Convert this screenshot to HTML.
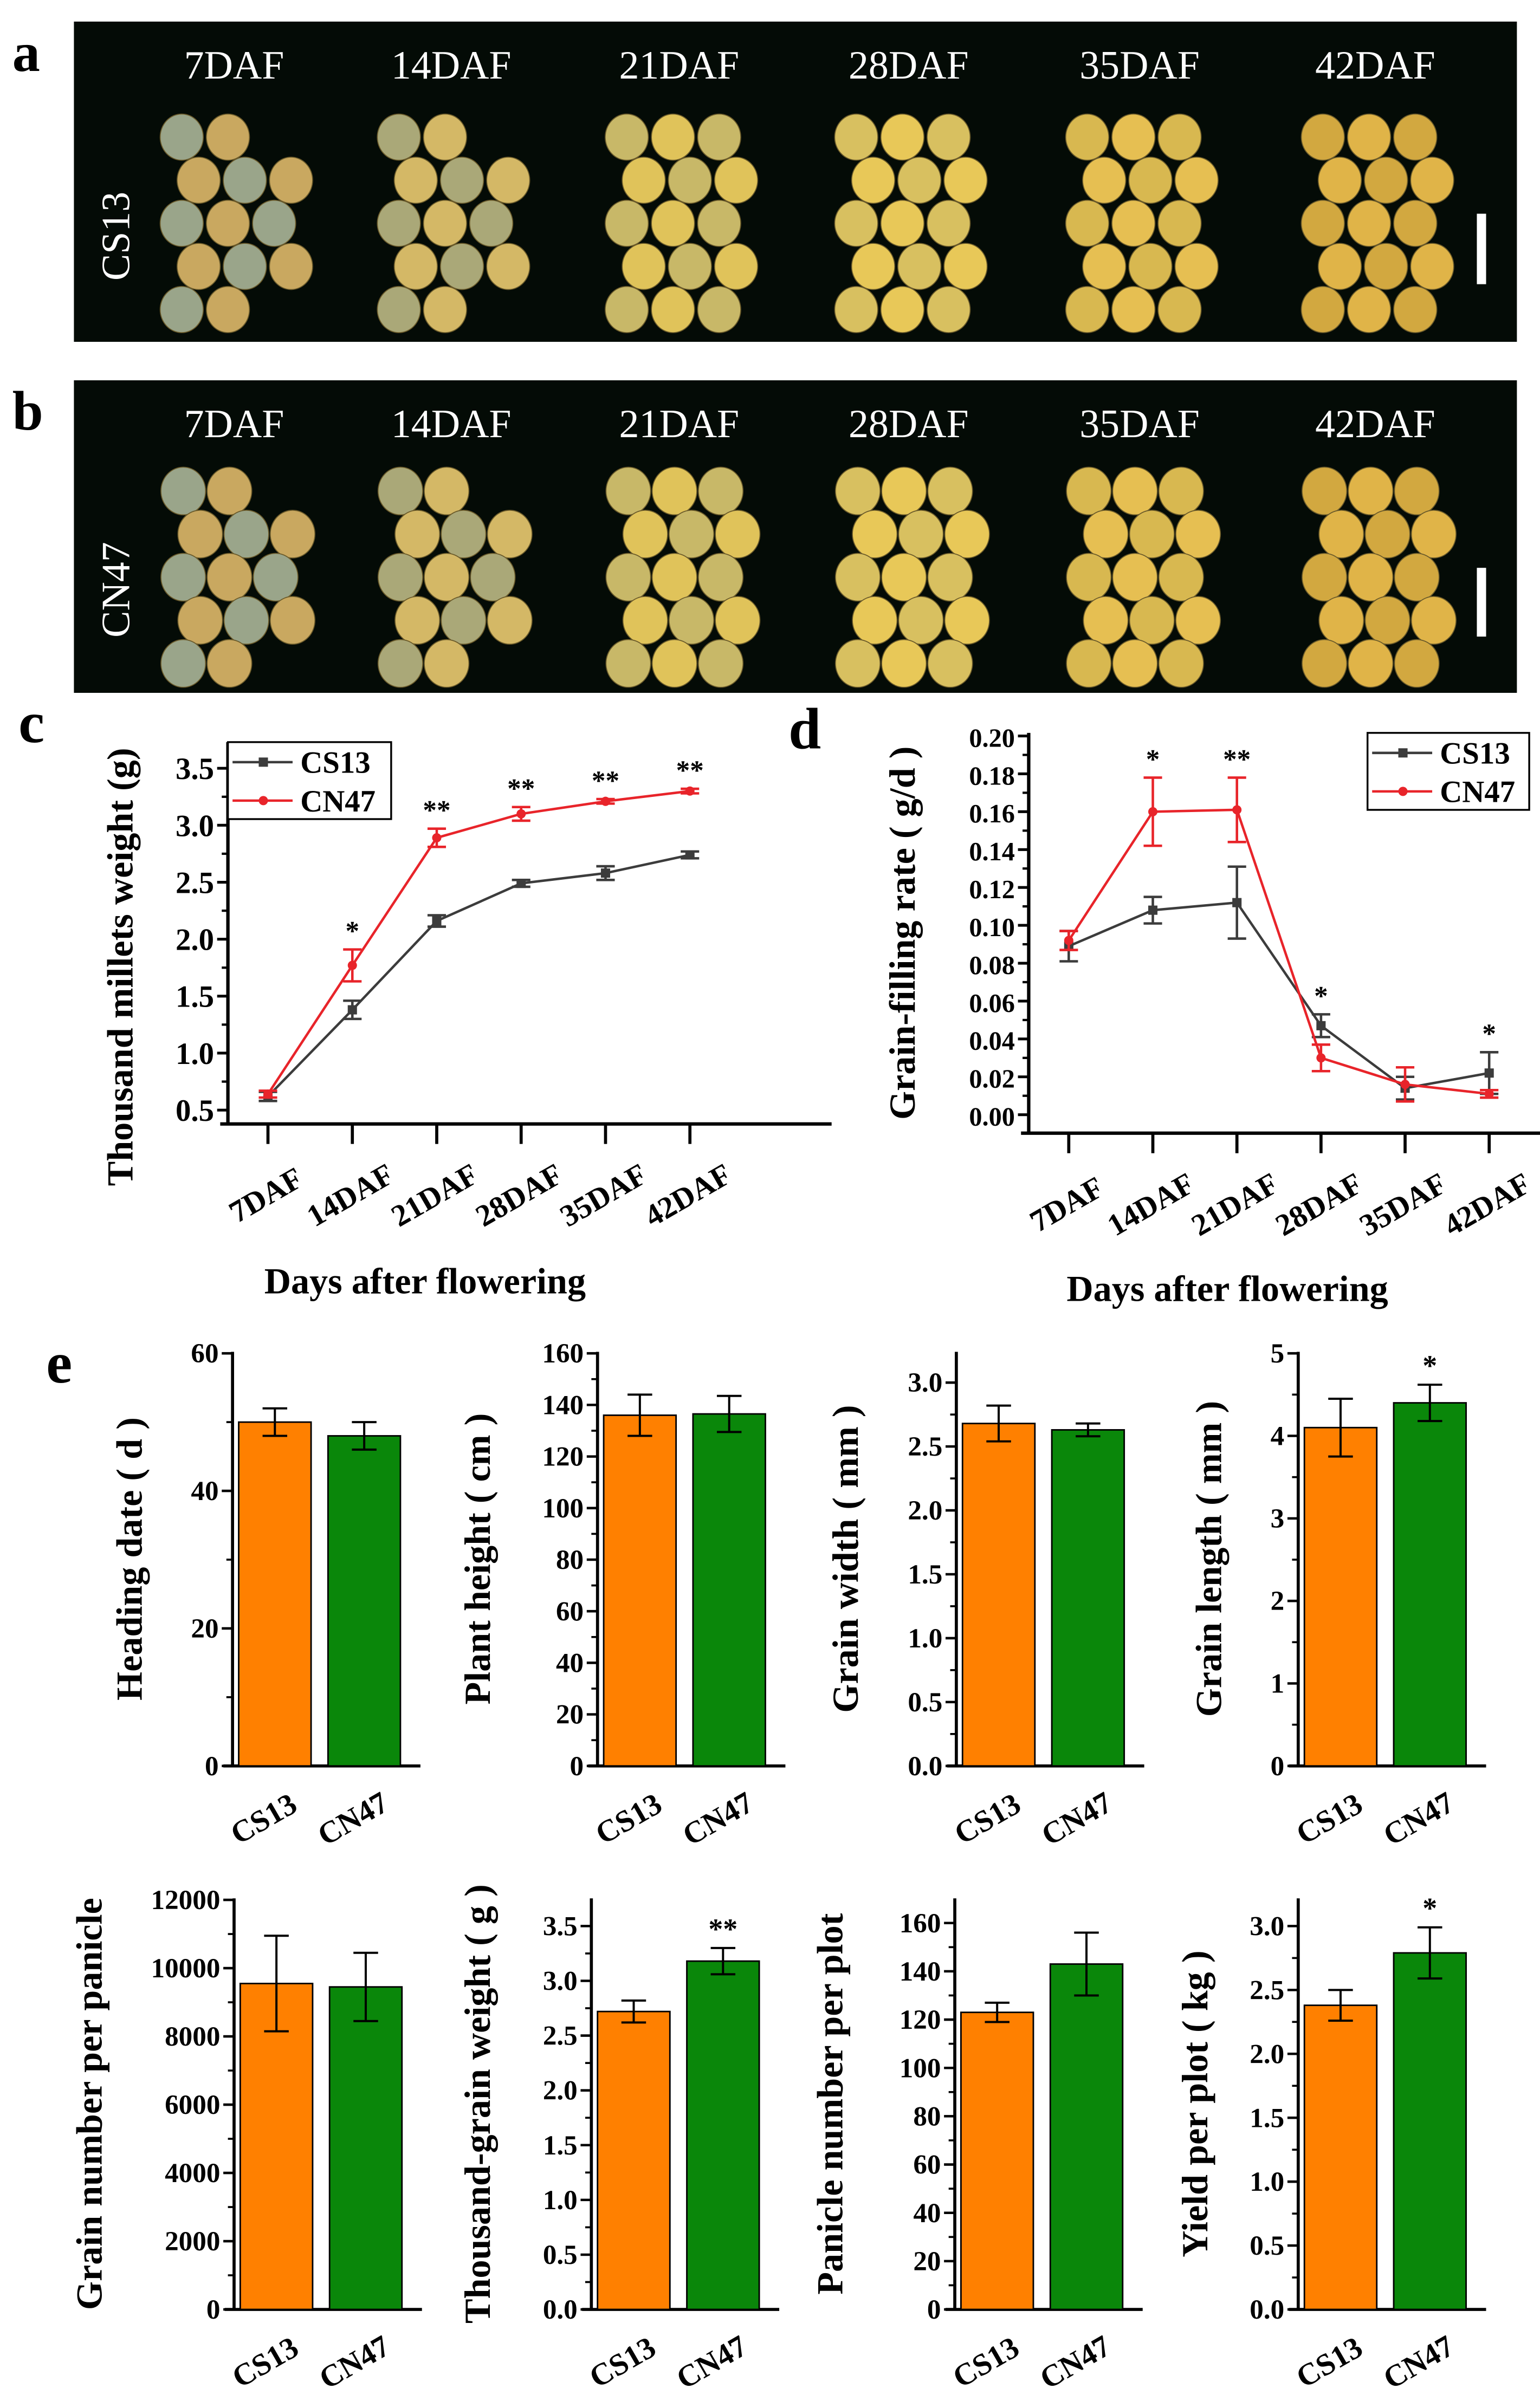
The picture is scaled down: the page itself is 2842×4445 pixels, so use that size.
<!DOCTYPE html>
<html><head><meta charset="utf-8"><style>
html,body{margin:0;padding:0;background:#fff}
svg{display:block;font-family:"Liberation Serif",serif;font-weight:bold}
</style></head><body>
<svg id="fig" xmlns="http://www.w3.org/2000/svg" width="2842" height="4445" viewBox="0 0 1000 1564">
<rect width="1000" height="1564" fill="#fff"/>
<g id="photos"></g>
<g id="lc"></g>
<g id="ld"></g>
<g id="bars"></g>
</svg>
<script>
const NS="http://www.w3.org/2000/svg";
// ---- line chart data ----
const days=["7DAF","14DAF","21DAF","28DAF","35DAF","42DAF"];
const cCS13=[0.62,1.38,2.16,2.49,2.58,2.74];
const cCS13err=[0.04,0.08,0.05,0.03,0.06,0.03];
const cCN47=[0.64,1.77,2.89,3.10,3.21,3.30];
const cCN47err=[0.03,0.14,0.08,0.06,0.02,0.02];
const cStars=["","*","**","**","**","**"];
const cTicks=[0.5,1.0,1.5,2.0,2.5,3.0,3.5];
const dCS13=[0.089,0.108,0.112,0.047,0.014,0.022];
const dCS13err=[0.008,0.007,0.019,0.006,0.006,0.011];
const dCN47=[0.092,0.160,0.161,0.030,0.016,0.011];
const dCN47err=[0.005,0.018,0.017,0.007,0.009,0.002];
const dStars=["","*","**","*","","*"];
const dTicks=[0,0.02,0.04,0.06,0.08,0.10,0.12,0.14,0.16,0.18,0.20];
// ---- bar chart data ----
const barCats=["CS13","CN47"];
const headingVals=[50,48], headingErr=[2,2], headingTicks=[0,20,40,60];
const heightVals=[136,136.5], heightErr=[8,7], heightTicks=[0,20,40,60,80,100,120,140,160];
const widthVals=[2.68,2.63], widthErr=[0.14,0.05], widthTicks=[0,0.5,1.0,1.5,2.0,2.5,3.0];
const lengthVals=[4.1,4.4], lengthErr=[0.35,0.22], lengthTicks=[0,1,2,3,4,5];
const numberVals=[9550,9450], numberErr=[1400,1000], numberTicks=[0,2000,4000,6000,8000,10000,12000];
const tgwVals=[2.72,3.18], tgwErr=[0.1,0.12], tgwTicks=[0,0.5,1.0,1.5,2.0,2.5,3.0,3.5];
const panicleVals=[123,143], panicleErr=[4,13], panicleTicks=[0,20,40,60,80,100,120,140,160];
const yieldVals=[2.38,2.79], yieldErr=[0.12,0.2], yieldTicks=[0,0.5,1.0,1.5,2.0,2.5,3.0];

function el(tag,attrs,parent,txt){const e=document.createElementNS(NS,tag);for(const k in attrs)e.setAttribute(k,attrs[k]);if(txt!==undefined)e.textContent=txt;parent.appendChild(e);return e;}

// ---- photo panels ----
const ph=document.getElementById('photos');
function panel(y0,h,label,letter,grow){
  const g=el('g',{},ph);
  
  
  el('rect',{x:48,y:y0,width:937,height:h,fill:'#040b06'},g);
  const lt=el('text',{x:8,y:y0+32,'font-size':36,fill:'#000'},ph,letter);
  
  
  const xs=[152,293,441,590,740,893];
  const cols=[["#9aa58a","#c9a860"],["#aaa878","#d4b866"],["#c8b868","#e0c35a"],["#d8c060","#e8c858"],["#d8b850","#e6bf52"],["#d2a840","#e0b448"]];
  xs.forEach((cx,i)=>{
    const t=el('text',{x:cx,y:y0+37,'font-size':26,'font-weight':'normal','text-anchor':'middle',fill:'#fff'},g,days[i]);
    
    
    const cy=y0+h*0.63;
    for(let r=0;r<5;r++)for(let c=0;c<3;c++){
      if((r==0||r==4)&&c==2&&i<2)continue;
      const gx=cx-30+c*30+(r%2?7:-4)+grow*2, gy=cy-56+r*28;
      el('ellipse',{cx:gx,cy:gy,rx:14+grow,ry:15+grow,fill:cols[i][(r+c)%2],stroke:'#6a5a2a','stroke-width':0.6},g);
    }
  });
  const l=el('text',{transform:`translate(84,${y0+h*0.67}) rotate(-90)`,'font-size':26,'font-weight':'normal','text-anchor':'middle',fill:'#fff'},g,label);
  
  
  const sb=el('rect',{x:959,y:y0+h*0.6,width:6,height:h*0.22,fill:'#fff'},g);
  
  
}
panel(14,208,'CS13','a',0);
panel(247,203,'CN47','b',0.5);

// ---- line charts ----
function lineChart(gid,o){
  const g=document.getElementById(gid);
  
  
  const Y=v=>o.y0-(v-o.v0)*o.sy;
  const X=i=>o.x0+i*o.dx;
  const lt=el('text',{x:o.lx,y:o.ly,'font-size':38,fill:'#000'},g,o.letter);
  
  
  el('line',{x1:o.ax,y1:o.top,x2:o.ax,y2:o.bot,stroke:'#000','stroke-width':2.2},g);
  el('line',{x1:o.ax-5,y1:o.bot,x2:o.right,y2:o.bot,stroke:'#000','stroke-width':2.2},g);
  o.ticks.forEach((t,k)=>{
    el('line',{x1:o.ax-7,y1:Y(t),x2:o.ax,y2:Y(t),stroke:'#000','stroke-width':1.8},g);
    if(k<o.ticks.length-1){const m=(t+o.ticks[k+1])/2;el('line',{x1:o.ax-4,y1:Y(m),x2:o.ax,y2:Y(m),stroke:'#000','stroke-width':1.5},g);}
    const tl=el('text',{x:o.ax-9,y:Y(t)+7,'font-size':o.tfs,'text-anchor':'end'},g,o.fmt(t));
    
    
  });
  days.forEach((d,i)=>{
    el('line',{x1:X(i),y1:o.bot,x2:X(i),y2:o.bot+13,stroke:'#000','stroke-width':2},g);
    const tl=el('text',{transform:`translate(${X(i)+2},${o.bot+52}) rotate(-30)`,'font-size':20,'text-anchor':'middle'},g,d);
    
    
  });
  const series=[[o.s1,o.e1,'#3c3c3c','sq','cs13-series'],[o.s2,o.e2,'#e8242a','ci','cn47-series']];
  series.forEach(([s,e,col,mk,nm])=>{
    const sg=el('g',{},g);
    
    
    el('polyline',{points:s.map((v,i)=>X(i)+','+Y(v)).join(' '),fill:'none',stroke:col,'stroke-width':1.6},sg);
    s.forEach((v,i)=>{
      const x=X(i);
      el('line',{x1:x,y1:Y(v-e[i]),x2:x,y2:Y(v+e[i]),stroke:col,'stroke-width':1.6},sg);
      el('line',{x1:x-6,y1:Y(v-e[i]),x2:x+6,y2:Y(v-e[i]),stroke:col,'stroke-width':1.6},sg);
      el('line',{x1:x-6,y1:Y(v+e[i]),x2:x+6,y2:Y(v+e[i]),stroke:col,'stroke-width':1.6},sg);
      if(mk=='sq')el('rect',{x:x-3,y:Y(v)-3,width:6,height:6,fill:col},sg);
      else el('circle',{cx:x,cy:Y(v),r:3,fill:col},sg);
    });
  });
  o.stars.forEach((st,i)=>{
    if(!st)return;
    const top=Math.max(o.s1[i]+o.e1[i],o.s2[i]+o.e2[i]);
    const t=el('text',{x:X(i),y:Y(top)-6,'font-size':18,'text-anchor':'middle'},g,st);
    
    
  });
  const lg=el('g',{},g);
  
  
  el('rect',{x:o.lgx,y:o.lgy,width:o.lgw,height:50,fill:'#fff',stroke:'#000','stroke-width':1.2},lg);
  [['CS13','#3c3c3c','sq'],['CN47','#e8242a','ci']].forEach(([n,c,m],k)=>{
    const yy=o.lgy+13+k*25;
    el('line',{x1:o.lgx+3,y1:yy,x2:o.lgx+42,y2:yy,stroke:c,'stroke-width':1.6},lg);
    if(m=='sq')el('rect',{x:o.lgx+20,y:yy-3,width:6,height:6,fill:c},lg);else el('circle',{cx:o.lgx+23,cy:yy,r:3,fill:c},lg);
    const t=el('text',{x:o.lgx+47,y:yy+7,'font-size':20},lg,n);
    
    
  });
  const yt=el('text',{transform:`translate(${o.ytx},${o.yty}) rotate(-90)`,'font-size':24,'text-anchor':'middle'},g,o.ytitle);
  
  
  const xt=el('text',{x:o.xtx,y:o.xty,'font-size':24,'text-anchor':'middle'},g,'Days after flowering');
  
  
}
lineChart('lc',{name:'thousand-millet-weight-chart',letter:'c',lx:12,ly:482,ax:148,top:482,bot:730,right:540,x0:174,dx:54.8,y0:721,v0:0.5,sy:74,tfs:20,
  ticks:cTicks,fmt:v=>v.toFixed(1),s1:cCS13,e1:cCS13err,s2:cCN47,e2:cCN47err,stars:cStars,lgx:148,lgy:482,lgw:106,
  ytx:86,yty:628,ytitle:'Thousand millets weight (g)',xtx:276,xty:840});
lineChart('ld',{name:'grain-filling-rate-chart',letter:'d',lx:512,ly:486,ax:668,top:476,bot:736,right:1000,x0:694,dx:54.6,y0:724,v0:0,sy:1230,tfs:17,
  ticks:dTicks,fmt:v=>v.toFixed(2),s1:dCS13,e1:dCS13err,s2:dCN47,e2:dCN47err,stars:dStars,lgx:888,lgy:476,lgw:105,
  ytx:594,yty:606,ytitle:'Grain-filling rate ( g/d )',xtx:797,xty:845});

// ---- bar charts ----
const bg=document.getElementById('bars');
const el_e=el('text',{x:30,y:898,'font-size':38},bg,'e');


function barChart(o){
  const g=el('g',{},bg);
  
  
  const maxT=o.ticks[o.ticks.length-1];
  const Y=v=>o.bot-v*(o.bot-o.tickTop)/maxT;
  el('line',{x1:o.ax,y1:o.top,x2:o.ax,y2:o.bot,stroke:'#000','stroke-width':2},g);
  el('line',{x1:o.ax-6,y1:o.bot,x2:o.ax+122,y2:o.bot,stroke:'#000','stroke-width':2},g);
  o.ticks.forEach((t,k)=>{
    el('line',{x1:o.ax-7,y1:Y(t),x2:o.ax,y2:Y(t),stroke:'#000','stroke-width':1.6},g);
    if(k<o.ticks.length-1){const m=(t+o.ticks[k+1])/2;el('line',{x1:o.ax-4,y1:Y(m),x2:o.ax,y2:Y(m),stroke:'#000','stroke-width':1.3},g);}
    const tl=el('text',{x:o.ax-9,y:Y(t)+6,'font-size':18,'text-anchor':'end'},g,o.fmt(t));
    
    
  });
  const cols=['#ff8000','#0a870a'];
  o.vals.forEach((v,i)=>{
    const bx=o.ax+4+i*58, w=47, cx=bx+w/2;
    const r=el('rect',{x:bx,y:Y(v),width:w,height:o.bot-Y(v),fill:cols[i],stroke:'#000','stroke-width':1},g);
    
    
    const e=o.err[i];
    el('line',{x1:cx,y1:Y(v-e),x2:cx,y2:Y(v+e),stroke:'#000','stroke-width':1.4},g);
    el('line',{x1:cx-8,y1:Y(v+e),x2:cx+8,y2:Y(v+e),stroke:'#000','stroke-width':1.4},g);
    el('line',{x1:cx-8,y1:Y(v-e),x2:cx+8,y2:Y(v-e),stroke:'#000','stroke-width':1.4},g);
    const tl=el('text',{transform:`translate(${cx-4},${o.bot+40}) rotate(-30)`,'font-size':20,'text-anchor':'middle'},g,barCats[i]);
    
    
    if(o.star&&i==1){const s=el('text',{x:cx,y:Y(v+e)-6,'font-size':19,'text-anchor':'middle'},g,o.star);
      
      }
  });
  const yt=el('text',{transform:`translate(${o.tx},${(o.top+o.bot)/2}) rotate(-90)`,'font-size':24,'text-anchor':'middle'},g,o.title);
  
  
}
const int=v=>String(v), one=v=>v.toFixed(1);
barChart({name:'heading-date-chart',ax:151,top:878,bot:1147,tickTop:879,ticks:headingTicks,fmt:int,vals:headingVals,err:headingErr,tx:92,title:'Heading date ( d )'});
barChart({name:'plant-height-chart',ax:388,top:878,bot:1147,tickTop:879,ticks:heightTicks,fmt:int,vals:heightVals,err:heightErr,tx:318,title:'Plant height ( cm )'});
barChart({name:'grain-width-chart',ax:621,top:878,bot:1147,tickTop:898,ticks:widthTicks,fmt:one,vals:widthVals,err:widthErr,tx:557,title:'Grain width ( mm )'});
barChart({name:'grain-length-chart',ax:843,top:878,bot:1147,tickTop:879,ticks:lengthTicks,fmt:int,vals:lengthVals,err:lengthErr,tx:793,title:'Grain length ( mm )',star:'*'});
barChart({name:'grain-number-chart',ax:152,top:1233,bot:1500,tickTop:1234,ticks:numberTicks,fmt:int,vals:numberVals,err:numberErr,tx:66,title:'Grain number per panicle'});
barChart({name:'thousand-grain-weight-chart',ax:384,top:1233,bot:1500,tickTop:1251,ticks:tgwTicks,fmt:one,vals:tgwVals,err:tgwErr,tx:318,title:'Thousand-grain weight ( g )',star:'**'});
barChart({name:'panicle-number-chart',ax:620,top:1233,bot:1500,tickTop:1249,ticks:panicleTicks,fmt:int,vals:panicleVals,err:panicleErr,tx:547,title:'Panicle number per plot'});
barChart({name:'yield-per-plot-chart',ax:843,top:1233,bot:1500,tickTop:1251,ticks:yieldTicks,fmt:one,vals:yieldVals,err:yieldErr,tx:784,title:'Yield per plot ( kg )',star:'*'});
</script>
</body></html>
